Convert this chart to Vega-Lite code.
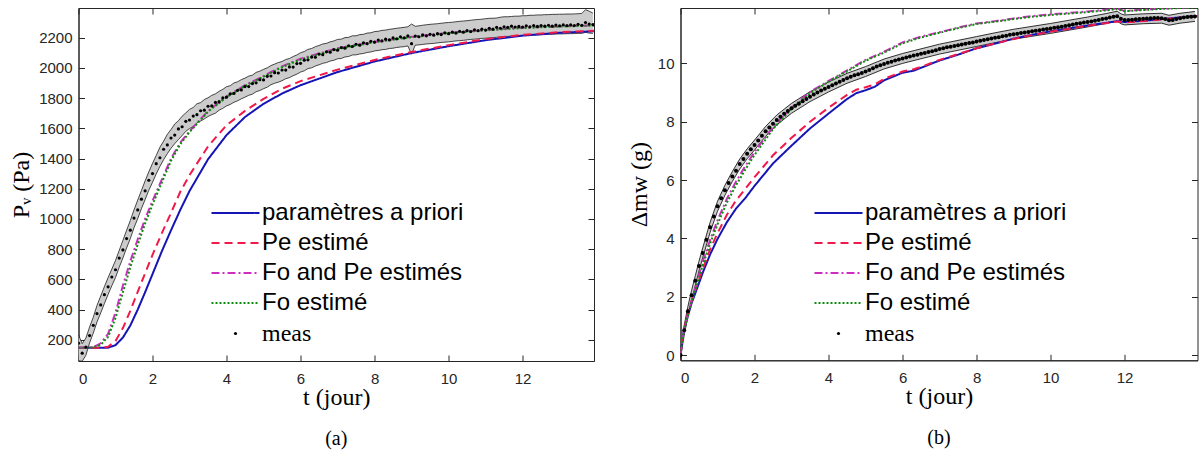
{
  "$schema": "https://vega.github.io/schema/vega-lite/v6.json",
  "background": "white",
  "autosize": {"type": "pad"},
  "padding": {"left": 8.5, "top": 7, "right": 2, "bottom": 0},
  "spacing": 30,
  "config": {
    "font": "Liberation Sans",
    "view": {"stroke": "#262626", "strokeWidth": 1},
    "axis": {"labelFont": "Liberation Sans", "labelFontSize": 15, "labelColor": "#262626", "domainColor": "#262626", "tickColor": "#262626", "tickSize": -6, "grid": false, "titleFont": "Liberation Serif", "titleFontSize": 24, "titleFontWeight": "normal", "titleColor": "black", "labelOverlap": false, "format": "d"},
    "axisX": {"labelPadding": 16, "titlePadding": -1},
    "axisY": {"labelPadding": 12.5, "titlePadding": 5, "labelOverlap": false},
    "legend": {"orient": "none", "padding": 0, "labelFont": "Liberation Sans", "labelFontSize": 24, "labelColor": "black", "rowPadding": 6, "labelLimit": 0}
  },
  "datasets": {
    "pvm": [
      {"t": 0, "ap": 147, "pe": 147, "fope": 147, "fo": 147},
      {"t": 0.2, "ap": 147, "pe": 147, "fope": 147, "fo": 147},
      {"t": 0.4, "ap": 147, "pe": 147, "fope": 152, "fo": 150},
      {"t": 0.6, "ap": 147, "pe": 148, "fope": 177, "fo": 167},
      {"t": 0.8, "ap": 148, "pe": 154, "fope": 240, "fo": 220},
      {"t": 1.0, "ap": 165, "pe": 192, "fope": 380, "fo": 345},
      {"t": 1.2, "ap": 215, "pe": 278, "fope": 560, "fo": 515},
      {"t": 1.4, "ap": 295, "pe": 392, "fope": 720, "fo": 680},
      {"t": 1.6, "ap": 400, "pe": 518, "fope": 865, "fo": 830},
      {"t": 1.8, "ap": 515, "pe": 640, "fope": 1000, "fo": 970},
      {"t": 2.0, "ap": 635, "pe": 762, "fope": 1120, "fo": 1095},
      {"t": 2.25, "ap": 785, "pe": 905, "fope": 1260, "fo": 1240},
      {"t": 2.5, "ap": 925, "pe": 1040, "fope": 1400, "fo": 1385},
      {"t": 2.75, "ap": 1060, "pe": 1180, "fope": 1505, "fo": 1495},
      {"t": 3.0, "ap": 1185, "pe": 1290, "fope": 1580, "fo": 1575},
      {"t": 3.5, "ap": 1395, "pe": 1480, "fope": 1715, "fo": 1710},
      {"t": 4.0, "ap": 1555, "pe": 1620, "fope": 1810, "fo": 1805},
      {"t": 4.5, "ap": 1675, "pe": 1715, "fope": 1885, "fo": 1880},
      {"t": 5.0, "ap": 1762, "pe": 1795, "fope": 1945, "fo": 1942},
      {"t": 5.5, "ap": 1830, "pe": 1862, "fope": 2010, "fo": 2005},
      {"t": 6, "ap": 1885, "pe": 1912, "fope": 2060, "fo": 2055},
      {"t": 7, "ap": 1972, "pe": 1988, "fope": 2130, "fo": 2125},
      {"t": 8, "ap": 2042, "pe": 2052, "fope": 2172, "fo": 2170},
      {"t": 9, "ap": 2098, "pe": 2105, "fope": 2205, "fo": 2203},
      {"t": 10, "ap": 2143, "pe": 2150, "fope": 2232, "fo": 2230},
      {"t": 11, "ap": 2183, "pe": 2190, "fope": 2250, "fo": 2248},
      {"t": 12, "ap": 2213, "pe": 2218, "fope": 2266, "fo": 2263},
      {"t": 13, "ap": 2232, "pe": 2236, "fope": 2275, "fo": 2273},
      {"t": 13.93, "ap": 2242, "pe": 2246, "fope": 2282, "fo": 2280}
    ],
    "pvx": [
      {"t": 0.0, "m": 178, "lo": 62, "hi": 232},
      {"t": 0.1, "m": 112, "lo": 58, "hi": 175},
      {"t": 0.2, "m": 152, "lo": 98, "hi": 212},
      {"t": 0.3, "m": 228, "lo": 180, "hi": 285},
      {"t": 0.4, "m": 296, "lo": 245, "hi": 350},
      {"t": 0.5, "m": 374, "lo": 318, "hi": 428},
      {"t": 0.6, "m": 431, "lo": 378, "hi": 490},
      {"t": 0.7, "m": 499, "lo": 440, "hi": 552},
      {"t": 0.8, "m": 551, "lo": 500, "hi": 612},
      {"t": 0.9, "m": 616, "lo": 558, "hi": 668},
      {"t": 1.0, "m": 664, "lo": 612, "hi": 725},
      {"t": 1.1, "m": 741, "lo": 680, "hi": 792},
      {"t": 1.2, "m": 795, "lo": 742, "hi": 858},
      {"t": 1.3, "m": 870, "lo": 808, "hi": 925},
      {"t": 1.4, "m": 926, "lo": 870, "hi": 990},
      {"t": 1.5, "m": 1006, "lo": 942, "hi": 1060},
      {"t": 1.6, "m": 1060, "lo": 1002, "hi": 1125},
      {"t": 1.7, "m": 1131, "lo": 1068, "hi": 1188},
      {"t": 1.8, "m": 1186, "lo": 1128, "hi": 1252},
      {"t": 1.9, "m": 1256, "lo": 1190, "hi": 1312},
      {"t": 2.0, "m": 1300, "lo": 1242, "hi": 1368},
      {"t": 2.1, "m": 1366, "lo": 1298, "hi": 1420},
      {"t": 2.2, "m": 1405, "lo": 1348, "hi": 1475},
      {"t": 2.3, "m": 1461, "lo": 1392, "hi": 1515},
      {"t": 2.4, "m": 1490, "lo": 1432, "hi": 1560},
      {"t": 2.5, "m": 1536, "lo": 1468, "hi": 1592},
      {"t": 2.6, "m": 1555, "lo": 1498, "hi": 1628},
      {"t": 2.7, "m": 1596, "lo": 1525, "hi": 1650},
      {"t": 2.8, "m": 1610, "lo": 1552, "hi": 1680},
      {"t": 2.9, "m": 1646, "lo": 1580, "hi": 1702},
      {"t": 3.0, "m": 1655, "lo": 1598, "hi": 1725},
      {"t": 3.1, "m": 1681, "lo": 1612, "hi": 1738},
      {"t": 3.2, "m": 1690, "lo": 1635, "hi": 1762},
      {"t": 3.3, "m": 1716, "lo": 1648, "hi": 1770},
      {"t": 3.4, "m": 1720, "lo": 1662, "hi": 1790},
      {"t": 3.5, "m": 1746, "lo": 1678, "hi": 1802},
      {"t": 3.6, "m": 1748, "lo": 1690, "hi": 1818},
      {"t": 3.7, "m": 1771, "lo": 1700, "hi": 1828},
      {"t": 3.8, "m": 1776, "lo": 1720, "hi": 1845},
      {"t": 3.9, "m": 1801, "lo": 1732, "hi": 1858},
      {"t": 4.0, "m": 1806, "lo": 1748, "hi": 1875},
      {"t": 4.1, "m": 1828, "lo": 1758, "hi": 1882},
      {"t": 4.2, "m": 1831, "lo": 1772, "hi": 1900},
      {"t": 4.3, "m": 1851, "lo": 1782, "hi": 1908},
      {"t": 4.4, "m": 1854, "lo": 1795, "hi": 1922},
      {"t": 4.5, "m": 1876, "lo": 1806, "hi": 1932},
      {"t": 4.6, "m": 1876, "lo": 1818, "hi": 1945},
      {"t": 4.7, "m": 1896, "lo": 1826, "hi": 1952},
      {"t": 4.8, "m": 1901, "lo": 1842, "hi": 1970},
      {"t": 4.9, "m": 1921, "lo": 1850, "hi": 1978},
      {"t": 5.0, "m": 1920, "lo": 1862, "hi": 1990},
      {"t": 5.1, "m": 1944, "lo": 1872, "hi": 2000},
      {"t": 5.2, "m": 1946, "lo": 1888, "hi": 2015},
      {"t": 5.3, "m": 1968, "lo": 1898, "hi": 2025},
      {"t": 5.4, "m": 1966, "lo": 1905, "hi": 2035},
      {"t": 5.5, "m": 1986, "lo": 1915, "hi": 2042},
      {"t": 5.6, "m": 1985, "lo": 1928, "hi": 2055},
      {"t": 5.7, "m": 2006, "lo": 1935, "hi": 2062},
      {"t": 5.8, "m": 2005, "lo": 1948, "hi": 2075},
      {"t": 5.9, "m": 2028, "lo": 1958, "hi": 2085},
      {"t": 6.0, "m": 2030, "lo": 1972, "hi": 2100},
      {"t": 6.1, "m": 2051, "lo": 1980, "hi": 2108},
      {"t": 6.2, "m": 2053, "lo": 1995, "hi": 2122},
      {"t": 6.3, "m": 2071, "lo": 2000, "hi": 2128},
      {"t": 6.4, "m": 2070, "lo": 2012, "hi": 2140},
      {"t": 6.5, "m": 2091, "lo": 2020, "hi": 2148},
      {"t": 6.6, "m": 2087, "lo": 2030, "hi": 2158},
      {"t": 6.7, "m": 2106, "lo": 2035, "hi": 2162},
      {"t": 6.8, "m": 2103, "lo": 2045, "hi": 2172},
      {"t": 6.9, "m": 2121, "lo": 2050, "hi": 2178},
      {"t": 7.0, "m": 2117, "lo": 2060, "hi": 2188},
      {"t": 7.1, "m": 2134, "lo": 2062, "hi": 2190},
      {"t": 7.2, "m": 2130, "lo": 2072, "hi": 2200},
      {"t": 7.3, "m": 2146, "lo": 2075, "hi": 2202},
      {"t": 7.4, "m": 2141, "lo": 2085, "hi": 2212},
      {"t": 7.5, "m": 2156, "lo": 2086, "hi": 2212},
      {"t": 7.6, "m": 2150, "lo": 2092, "hi": 2220},
      {"t": 7.7, "m": 2166, "lo": 2095, "hi": 2222},
      {"t": 7.8, "m": 2160, "lo": 2102, "hi": 2230},
      {"t": 7.9, "m": 2176, "lo": 2105, "hi": 2232},
      {"t": 8.0, "m": 2170, "lo": 2112, "hi": 2240},
      {"t": 8.1, "m": 2184, "lo": 2115, "hi": 2242},
      {"t": 8.2, "m": 2178, "lo": 2120, "hi": 2248},
      {"t": 8.3, "m": 2190, "lo": 2122, "hi": 2250},
      {"t": 8.4, "m": 2185, "lo": 2128, "hi": 2255},
      {"t": 8.5, "m": 2198, "lo": 2130, "hi": 2258},
      {"t": 8.6, "m": 2192, "lo": 2135, "hi": 2262},
      {"t": 8.7, "m": 2205, "lo": 2138, "hi": 2265},
      {"t": 8.8, "m": 2198, "lo": 2140, "hi": 2268},
      {"t": 8.9, "m": 2212, "lo": 2145, "hi": 2272},
      {"t": 9.0, "m": 2160, "lo": 2090, "hi": 2290},
      {"t": 9.1, "m": 2210, "lo": 2150, "hi": 2275},
      {"t": 9.2, "m": 2206, "lo": 2152, "hi": 2278},
      {"t": 9.3, "m": 2218, "lo": 2155, "hi": 2282},
      {"t": 9.4, "m": 2212, "lo": 2158, "hi": 2285},
      {"t": 9.5, "m": 2222, "lo": 2160, "hi": 2288},
      {"t": 9.6, "m": 2216, "lo": 2162, "hi": 2290},
      {"t": 9.7, "m": 2226, "lo": 2165, "hi": 2292},
      {"t": 9.8, "m": 2220, "lo": 2168, "hi": 2295},
      {"t": 9.9, "m": 2232, "lo": 2170, "hi": 2298},
      {"t": 10.0, "m": 2226, "lo": 2172, "hi": 2300},
      {"t": 10.1, "m": 2236, "lo": 2175, "hi": 2302},
      {"t": 10.2, "m": 2230, "lo": 2178, "hi": 2305},
      {"t": 10.3, "m": 2242, "lo": 2180, "hi": 2308},
      {"t": 10.4, "m": 2236, "lo": 2182, "hi": 2310},
      {"t": 10.5, "m": 2246, "lo": 2185, "hi": 2312},
      {"t": 10.6, "m": 2240, "lo": 2188, "hi": 2315},
      {"t": 10.7, "m": 2252, "lo": 2190, "hi": 2318},
      {"t": 10.8, "m": 2246, "lo": 2192, "hi": 2320},
      {"t": 10.9, "m": 2256, "lo": 2195, "hi": 2322},
      {"t": 11.0, "m": 2250, "lo": 2196, "hi": 2325},
      {"t": 11.1, "m": 2262, "lo": 2198, "hi": 2328},
      {"t": 11.2, "m": 2256, "lo": 2200, "hi": 2328},
      {"t": 11.3, "m": 2268, "lo": 2202, "hi": 2330},
      {"t": 11.4, "m": 2262, "lo": 2205, "hi": 2335},
      {"t": 11.5, "m": 2272, "lo": 2208, "hi": 2338},
      {"t": 11.6, "m": 2268, "lo": 2208, "hi": 2338},
      {"t": 11.7, "m": 2276, "lo": 2210, "hi": 2340},
      {"t": 11.8, "m": 2270, "lo": 2212, "hi": 2342},
      {"t": 11.9, "m": 2274, "lo": 2212, "hi": 2342},
      {"t": 12.0, "m": 2270, "lo": 2214, "hi": 2345},
      {"t": 12.1, "m": 2278, "lo": 2215, "hi": 2345},
      {"t": 12.2, "m": 2272, "lo": 2216, "hi": 2348},
      {"t": 12.3, "m": 2280, "lo": 2218, "hi": 2348},
      {"t": 12.4, "m": 2274, "lo": 2218, "hi": 2350},
      {"t": 12.5, "m": 2280, "lo": 2220, "hi": 2350},
      {"t": 12.6, "m": 2276, "lo": 2220, "hi": 2352},
      {"t": 12.7, "m": 2282, "lo": 2222, "hi": 2352},
      {"t": 12.8, "m": 2276, "lo": 2222, "hi": 2354},
      {"t": 12.9, "m": 2283, "lo": 2224, "hi": 2354},
      {"t": 13.0, "m": 2278, "lo": 2224, "hi": 2355},
      {"t": 13.1, "m": 2284, "lo": 2225, "hi": 2355},
      {"t": 13.2, "m": 2279, "lo": 2226, "hi": 2356},
      {"t": 13.3, "m": 2285, "lo": 2226, "hi": 2356},
      {"t": 13.4, "m": 2280, "lo": 2227, "hi": 2357},
      {"t": 13.5, "m": 2288, "lo": 2228, "hi": 2358},
      {"t": 13.6, "m": 2282, "lo": 2228, "hi": 2360},
      {"t": 13.7, "m": 2300, "lo": 2235, "hi": 2385},
      {"t": 13.8, "m": 2290, "lo": 2230, "hi": 2375},
      {"t": 13.9, "m": 2286, "lo": 2228, "hi": 2362}
    ],
    "dmm": [
      {"t": 0, "ap": 0, "pe": 0, "fope": 0, "fo": 0},
      {"t": 0.05, "ap": 0.55, "pe": 0.57, "fope": 0.55, "fo": 0.55},
      {"t": 0.1, "ap": 0.85, "pe": 0.9, "fope": 0.88, "fo": 0.86},
      {"t": 0.2, "ap": 1.35, "pe": 1.42, "fope": 1.4, "fo": 1.36},
      {"t": 0.3, "ap": 1.78, "pe": 1.85, "fope": 1.88, "fo": 1.82},
      {"t": 0.4, "ap": 2.12, "pe": 2.22, "fope": 2.3, "fo": 2.22},
      {"t": 0.6, "ap": 2.82, "pe": 2.95, "fope": 3.2, "fo": 3.08},
      {"t": 0.8, "ap": 3.45, "pe": 3.62, "fope": 3.95, "fo": 3.82},
      {"t": 1.0, "ap": 3.98, "pe": 4.18, "fope": 4.62, "fo": 4.48},
      {"t": 1.25, "ap": 4.55, "pe": 4.8, "fope": 5.35, "fo": 5.22},
      {"t": 1.5, "ap": 5.02, "pe": 5.3, "fope": 5.95, "fo": 5.82},
      {"t": 1.75, "ap": 5.38, "pe": 5.7, "fope": 6.48, "fo": 6.36},
      {"t": 2.0, "ap": 5.8, "pe": 6.1, "fope": 6.96, "fo": 6.86},
      {"t": 2.5, "ap": 6.57, "pe": 6.85, "fope": 7.82, "fo": 7.75},
      {"t": 3.0, "ap": 7.18, "pe": 7.45, "fope": 8.48, "fo": 8.44},
      {"t": 3.5, "ap": 7.77, "pe": 8.0, "fope": 9.02, "fo": 8.98},
      {"t": 4.0, "ap": 8.28, "pe": 8.48, "fope": 9.4, "fo": 9.37},
      {"t": 4.5, "ap": 8.78, "pe": 8.92, "fope": 9.76, "fo": 9.73},
      {"t": 4.75, "ap": 8.98, "pe": 9.1, "fope": 9.94, "fo": 9.91},
      {"t": 5.0, "ap": 9.08, "pe": 9.18, "fope": 10.12, "fo": 10.09},
      {"t": 5.25, "ap": 9.2, "pe": 9.28, "fope": 10.26, "fo": 10.23},
      {"t": 5.5, "ap": 9.42, "pe": 9.47, "fope": 10.4, "fo": 10.37},
      {"t": 6.0, "ap": 9.68, "pe": 9.72, "fope": 10.72, "fo": 10.69},
      {"t": 6.3, "ap": 9.75, "pe": 9.8, "fope": 10.84, "fo": 10.81},
      {"t": 6.5, "ap": 9.85, "pe": 9.88, "fope": 10.92, "fo": 10.89},
      {"t": 7.0, "ap": 10.1, "pe": 10.12, "fope": 11.07, "fo": 11.05},
      {"t": 7.5, "ap": 10.3, "pe": 10.32, "fope": 11.23, "fo": 11.21},
      {"t": 8.0, "ap": 10.52, "pe": 10.52, "fope": 11.37, "fo": 11.35},
      {"t": 8.5, "ap": 10.68, "pe": 10.68, "fope": 11.45, "fo": 11.43},
      {"t": 9.0, "ap": 10.85, "pe": 10.84, "fope": 11.54, "fo": 11.52},
      {"t": 9.5, "ap": 10.98, "pe": 10.97, "fope": 11.62, "fo": 11.6},
      {"t": 10.0, "ap": 11.1, "pe": 11.09, "fope": 11.68, "fo": 11.66},
      {"t": 10.5, "ap": 11.2, "pe": 11.19, "fope": 11.73, "fo": 11.71},
      {"t": 11.0, "ap": 11.3, "pe": 11.29, "fope": 11.78, "fo": 11.76},
      {"t": 11.5, "ap": 11.39, "pe": 11.38, "fope": 11.84, "fo": 11.82},
      {"t": 11.8, "ap": 11.45, "pe": 11.44, "fope": 11.88, "fo": 11.86},
      {"t": 12.0, "ap": 11.42, "pe": 11.41, "fope": 11.8, "fo": 11.79},
      {"t": 12.5, "ap": 11.46, "pe": 11.45, "fope": 11.84, "fo": 11.83},
      {"t": 13.0, "ap": 11.52, "pe": 11.51, "fope": 11.88, "fo": 11.87},
      {"t": 13.5, "ap": 11.58, "pe": 11.57, "fope": 11.91, "fo": 11.9},
      {"t": 13.97, "ap": 11.63, "pe": 11.62, "fope": 11.93, "fo": 11.92}
    ],
    "dmx": [
      {"t": 0.0, "m": 0.0}, {"t": 0.1, "m": 0.85}, {"t": 0.2, "m": 1.5}, {"t": 0.3, "m": 2.05}, {"t": 0.4, "m": 2.55},
      {"t": 0.5, "m": 3.05}, {"t": 0.6, "m": 3.5}, {"t": 0.7, "m": 3.95}, {"t": 0.8, "m": 4.38}, {"t": 0.9, "m": 4.75},
      {"t": 1.0, "m": 5.1}, {"t": 1.1, "m": 5.38}, {"t": 1.2, "m": 5.65}, {"t": 1.3, "m": 5.9}, {"t": 1.4, "m": 6.12},
      {"t": 1.5, "m": 6.32}, {"t": 1.6, "m": 6.55}, {"t": 1.7, "m": 6.72}, {"t": 1.8, "m": 6.9}, {"t": 1.9, "m": 7.06},
      {"t": 2.0, "m": 7.2}, {"t": 2.1, "m": 7.36}, {"t": 2.2, "m": 7.52}, {"t": 2.3, "m": 7.67}, {"t": 2.4, "m": 7.8},
      {"t": 2.5, "m": 7.93}, {"t": 2.6, "m": 8.06}, {"t": 2.7, "m": 8.17}, {"t": 2.8, "m": 8.27}, {"t": 2.9, "m": 8.37},
      {"t": 3.0, "m": 8.46}, {"t": 3.1, "m": 8.55}, {"t": 3.2, "m": 8.62}, {"t": 3.3, "m": 8.7}, {"t": 3.4, "m": 8.78},
      {"t": 3.5, "m": 8.86}, {"t": 3.6, "m": 8.93}, {"t": 3.7, "m": 9.0}, {"t": 3.8, "m": 9.07}, {"t": 3.9, "m": 9.13},
      {"t": 4.0, "m": 9.19}, {"t": 4.1, "m": 9.25}, {"t": 4.2, "m": 9.31}, {"t": 4.3, "m": 9.37}, {"t": 4.4, "m": 9.43},
      {"t": 4.5, "m": 9.49}, {"t": 4.6, "m": 9.54}, {"t": 4.7, "m": 9.59}, {"t": 4.8, "m": 9.63}, {"t": 4.9, "m": 9.67},
      {"t": 5.0, "m": 9.72}, {"t": 5.1, "m": 9.77}, {"t": 5.2, "m": 9.83}, {"t": 5.3, "m": 9.89}, {"t": 5.4, "m": 9.94},
      {"t": 5.5, "m": 9.98}, {"t": 5.6, "m": 10.02}, {"t": 5.7, "m": 10.06}, {"t": 5.8, "m": 10.1}, {"t": 5.9, "m": 10.13},
      {"t": 6.0, "m": 10.17}, {"t": 6.1, "m": 10.2}, {"t": 6.2, "m": 10.24}, {"t": 6.3, "m": 10.27}, {"t": 6.4, "m": 10.3},
      {"t": 6.5, "m": 10.33}, {"t": 6.6, "m": 10.36}, {"t": 6.7, "m": 10.39}, {"t": 6.8, "m": 10.42}, {"t": 6.9, "m": 10.45},
      {"t": 7.0, "m": 10.49}, {"t": 7.1, "m": 10.52}, {"t": 7.2, "m": 10.55}, {"t": 7.3, "m": 10.57}, {"t": 7.4, "m": 10.6},
      {"t": 7.5, "m": 10.62}, {"t": 7.6, "m": 10.65}, {"t": 7.7, "m": 10.67}, {"t": 7.8, "m": 10.7}, {"t": 7.9, "m": 10.72},
      {"t": 8.0, "m": 10.75}, {"t": 8.1, "m": 10.78}, {"t": 8.2, "m": 10.8}, {"t": 8.3, "m": 10.83}, {"t": 8.4, "m": 10.85},
      {"t": 8.5, "m": 10.88}, {"t": 8.6, "m": 10.9}, {"t": 8.7, "m": 10.93}, {"t": 8.8, "m": 10.95}, {"t": 8.9, "m": 10.98},
      {"t": 9.0, "m": 11.0}, {"t": 9.1, "m": 11.02}, {"t": 9.2, "m": 11.04}, {"t": 9.3, "m": 11.06}, {"t": 9.4, "m": 11.08},
      {"t": 9.5, "m": 11.1}, {"t": 9.6, "m": 11.12}, {"t": 9.7, "m": 11.14}, {"t": 9.8, "m": 11.16}, {"t": 9.9, "m": 11.18},
      {"t": 10.0, "m": 11.2}, {"t": 10.1, "m": 11.22}, {"t": 10.2, "m": 11.24}, {"t": 10.3, "m": 11.26}, {"t": 10.4, "m": 11.28},
      {"t": 10.5, "m": 11.31}, {"t": 10.6, "m": 11.33}, {"t": 10.7, "m": 11.36}, {"t": 10.8, "m": 11.38}, {"t": 10.9, "m": 11.4},
      {"t": 11.0, "m": 11.42}, {"t": 11.1, "m": 11.44}, {"t": 11.2, "m": 11.46}, {"t": 11.3, "m": 11.49}, {"t": 11.4, "m": 11.52},
      {"t": 11.5, "m": 11.54}, {"t": 11.6, "m": 11.57}, {"t": 11.7, "m": 11.6}, {"t": 11.8, "m": 11.62}, {"t": 11.9, "m": 11.53},
      {"t": 12.0, "m": 11.49}, {"t": 12.1, "m": 11.49}, {"t": 12.2, "m": 11.5}, {"t": 12.3, "m": 11.51}, {"t": 12.4, "m": 11.52},
      {"t": 12.5, "m": 11.53}, {"t": 12.6, "m": 11.54}, {"t": 12.7, "m": 11.55}, {"t": 12.8, "m": 11.56}, {"t": 12.9, "m": 11.56},
      {"t": 13.0, "m": 11.55}, {"t": 13.1, "m": 11.52}, {"t": 13.2, "m": 11.48}, {"t": 13.3, "m": 11.49}, {"t": 13.4, "m": 11.52},
      {"t": 13.5, "m": 11.55}, {"t": 13.6, "m": 11.57}, {"t": 13.7, "m": 11.59}, {"t": 13.8, "m": 11.6}, {"t": 13.9, "m": 11.61}
    ],
    "dmb": [
      {"t": 0, "lo": -0.1, "hi": 0.1},
      {"t": 0.1, "lo": 0.68, "hi": 1.02},
      {"t": 0.2, "lo": 1.33, "hi": 1.67},
      {"t": 0.3, "lo": 1.88, "hi": 2.22},
      {"t": 0.4, "lo": 2.38, "hi": 2.72},
      {"t": 0.5, "lo": 2.88, "hi": 3.22},
      {"t": 0.6, "lo": 3.33, "hi": 3.67},
      {"t": 0.8, "lo": 4.21, "hi": 4.55},
      {"t": 1.0, "lo": 4.93, "hi": 5.27},
      {"t": 1.2, "lo": 5.48, "hi": 5.82},
      {"t": 1.4, "lo": 5.95, "hi": 6.29},
      {"t": 1.6, "lo": 6.38, "hi": 6.72},
      {"t": 1.8, "lo": 6.73, "hi": 7.07},
      {"t": 2.0, "lo": 7.03, "hi": 7.37},
      {"t": 2.3, "lo": 7.5, "hi": 7.84},
      {"t": 2.6, "lo": 7.89, "hi": 8.23},
      {"t": 3.0, "lo": 8.29, "hi": 8.63},
      {"t": 3.5, "lo": 8.69, "hi": 9.03},
      {"t": 4.0, "lo": 9.02, "hi": 9.36},
      {"t": 4.5, "lo": 9.32, "hi": 9.66},
      {"t": 5.0, "lo": 9.55, "hi": 9.89},
      {"t": 5.5, "lo": 9.81, "hi": 10.15},
      {"t": 6.0, "lo": 10.0, "hi": 10.34},
      {"t": 6.5, "lo": 10.16, "hi": 10.5},
      {"t": 7.0, "lo": 10.32, "hi": 10.66},
      {"t": 7.5, "lo": 10.45, "hi": 10.79},
      {"t": 8.0, "lo": 10.58, "hi": 10.92},
      {"t": 8.5, "lo": 10.71, "hi": 11.05},
      {"t": 9.0, "lo": 10.83, "hi": 11.17},
      {"t": 9.5, "lo": 10.93, "hi": 11.27},
      {"t": 10.0, "lo": 11.03, "hi": 11.37},
      {"t": 10.5, "lo": 11.14, "hi": 11.48},
      {"t": 11.0, "lo": 11.25, "hi": 11.59},
      {"t": 11.5, "lo": 11.37, "hi": 11.71},
      {"t": 11.8, "lo": 11.45, "hi": 11.79},
      {"t": 11.9, "lo": 11.36, "hi": 11.7},
      {"t": 12.0, "lo": 11.32, "hi": 11.66},
      {"t": 12.5, "lo": 11.36, "hi": 11.7},
      {"t": 13.0, "lo": 11.38, "hi": 11.72},
      {"t": 13.2, "lo": 11.31, "hi": 11.65},
      {"t": 13.5, "lo": 11.38, "hi": 11.72},
      {"t": 13.9, "lo": 11.44, "hi": 11.78}
    ]
  },
  "resolve": {
    "scale": {"x": "independent", "y": "independent", "color": "independent", "strokeDash": "independent", "shape": "independent"},
    "legend": {"color": "independent", "strokeDash": "independent", "shape": "independent"}
  },
  "hconcat": [
    {
      "width": 515.5,
      "height": 353,
      "title": {"text": "(a)", "orient": "bottom", "font": "Liberation Serif", "fontSize": 20, "fontWeight": "normal", "color": "black", "frame": "group", "anchor": "middle", "offset": 20},
      "resolve": {"axis": {"x": "independent", "y": "independent"}},
      "layer": [
        {
          "layer": [
            {
              "data": {"name": "pvx"},
              "mark": {"type": "area", "color": "#cccccc", "clip": true},
              "encoding": {
                "x": {"field": "t", "type": "quantitative", "scale": {"domain": [0, 13.93], "nice": false, "zero": false}, "axis": {"title": "t (jour)", "values": [0, 2, 4, 6, 8, 10, 12], "tickCount": 20, "labelOverlap": false, "format": "d"}},
                "y": {"field": "lo", "type": "quantitative", "scale": {"domain": [60, 2396], "nice": false, "zero": false}, "axis": {"title": "Pᵥ (Pa)", "values": [200, 400, 600, 800, 1000, 1200, 1400, 1600, 1800, 2000, 2200], "tickCount": 20, "labelOverlap": false, "format": "d"}},
                "y2": {"field": "hi"}
              }
            },
            {
              "data": {"name": "pvx"},
              "mark": {"type": "line", "color": "black", "strokeWidth": 0.7, "clip": true},
              "encoding": {
                "x": {"field": "t", "type": "quantitative", "scale": {"domain": [0, 13.93], "nice": false, "zero": false}},
                "y": {"field": "lo", "type": "quantitative", "scale": {"domain": [60, 2396], "nice": false, "zero": false}}
              }
            },
            {
              "data": {"name": "pvx"},
              "mark": {"type": "line", "color": "black", "strokeWidth": 0.7, "clip": true},
              "encoding": {
                "x": {"field": "t", "type": "quantitative", "scale": {"domain": [0, 13.93], "nice": false, "zero": false}},
                "y": {"field": "hi", "type": "quantitative", "scale": {"domain": [60, 2396], "nice": false, "zero": false}}
              }
            },
            {
              "data": {"name": "pvm"},
              "transform": [{"fold": ["ap", "pe", "fope", "fo"], "as": ["series", "v"]}],
              "mark": {"type": "line", "strokeWidth": 2, "clip": true},
              "encoding": {
                "x": {"field": "t", "type": "quantitative", "scale": {"domain": [0, 13.93], "nice": false, "zero": false}},
                "y": {"field": "v", "type": "quantitative", "scale": {"domain": [60, 2396], "nice": false, "zero": false}},
                "color": {"field": "series", "type": "nominal", "scale": {"domain": ["ap", "pe", "fope", "fo"], "range": ["#1515b5", "#f0194a", "#cc2fc0", "#0a8f0a"]},
                  "legend": {"title": null, "legendX": 145, "legendY": 193, "symbolType": "M-2.4,0H2.4", "symbolSize": 400, "symbolStrokeWidth": 2, "labelOffset": 14.5, "labelExpr": "datum.value === 'ap' ? 'paramètres a priori' : datum.value === 'pe' ? 'Pe estimé' : datum.value === 'fope' ? 'Fo and Pe estimés' : 'Fo estimé'"}},
                "strokeDash": {"field": "series", "type": "nominal", "scale": {"domain": ["ap", "pe", "fope", "fo"], "range": [[1, 0], [8, 5], [8, 3, 2, 3], [2, 2]]},
                  "legend": {"title": null, "legendX": 145, "legendY": 193, "symbolType": "M-2.4,0H2.4", "symbolSize": 400, "symbolStrokeWidth": 2, "labelOffset": 14.5, "labelExpr": "datum.value === 'ap' ? 'paramètres a priori' : datum.value === 'pe' ? 'Pe estimé' : datum.value === 'fope' ? 'Fo and Pe estimés' : 'Fo estimé'"}}
              }
            },
            {
              "data": {"name": "pvx"},
              "mark": {"type": "point", "filled": true, "color": "black", "size": 10, "opacity": 1, "clip": true},
              "encoding": {
                "x": {"field": "t", "type": "quantitative", "scale": {"domain": [0, 13.93], "nice": false, "zero": false}},
                "y": {"field": "m", "type": "quantitative", "scale": {"domain": [60, 2396], "nice": false, "zero": false}},
                "shape": {"datum": "meas", "scale": {"domain": ["meas"], "range": ["circle"]},
                  "legend": {"title": null, "legendX": 145, "legendY": 313.5, "symbolSize": 10, "symbolFillColor": "black", "symbolStrokeWidth": 0, "labelFont": "Liberation Serif", "labelOffset": 14.5}}
              }
            }
          ]
        },
        {
          "data": {"name": "pvx"},
          "mark": {"type": "point", "opacity": 0},
          "encoding": {
            "x": {"field": "t", "type": "quantitative", "scale": {"domain": [0, 13.93], "nice": false, "zero": false}, "axis": {"orient": "top", "labels": false, "domain": false, "title": null, "tickCount": 20, "values": [0, 2, 4, 6, 8, 10, 12]}},
            "y": {"field": "m", "type": "quantitative", "scale": {"domain": [60, 2396], "nice": false, "zero": false}, "axis": {"orient": "right", "labels": false, "domain": false, "title": null, "tickCount": 20, "values": [200, 400, 600, 800, 1000, 1200, 1400, 1600, 1800, 2000, 2200]}}
          }
        }
      ]
    },
    {
      "width": 517,
      "height": 352.3,
      "title": {"text": "(b)", "orient": "bottom", "font": "Liberation Serif", "fontSize": 20, "fontWeight": "normal", "color": "black", "frame": "group", "anchor": "middle", "offset": 20},
      "resolve": {"axis": {"x": "independent", "y": "independent"}},
      "layer": [
        {
          "layer": [
            {
              "data": {"name": "dmb"},
              "mark": {"type": "area", "color": "#cccccc", "clip": true},
              "encoding": {
                "x": {"field": "t", "type": "quantitative", "scale": {"domain": [0, 13.97], "nice": false, "zero": false}, "axis": {"title": "t (jour)", "values": [0, 2, 4, 6, 8, 10, 12], "tickCount": 20, "labelOverlap": false, "format": "d"}},
                "y": {"field": "lo", "type": "quantitative", "scale": {"domain": [-0.18, 11.9], "nice": false, "zero": false}, "axis": {"title": "Δmw (g)", "values": [0, 2, 4, 6, 8, 10], "tickCount": 20, "titlePadding": 6, "labelOverlap": false, "format": "d"}},
                "y2": {"field": "hi"}
              }
            },
            {
              "data": {"name": "dmb"},
              "mark": {"type": "line", "color": "black", "strokeWidth": 0.8, "clip": true},
              "encoding": {
                "x": {"field": "t", "type": "quantitative", "scale": {"domain": [0, 13.97], "nice": false, "zero": false}},
                "y": {"field": "lo", "type": "quantitative", "scale": {"domain": [-0.18, 11.9], "nice": false, "zero": false}}
              }
            },
            {
              "data": {"name": "dmb"},
              "mark": {"type": "line", "color": "black", "strokeWidth": 0.8, "clip": true},
              "encoding": {
                "x": {"field": "t", "type": "quantitative", "scale": {"domain": [0, 13.97], "nice": false, "zero": false}},
                "y": {"field": "hi", "type": "quantitative", "scale": {"domain": [-0.18, 11.9], "nice": false, "zero": false}}
              }
            },
            {
              "data": {"name": "dmm"},
              "transform": [{"fold": ["ap", "pe", "fope", "fo"], "as": ["series", "v"]}],
              "mark": {"type": "line", "strokeWidth": 2, "clip": true},
              "encoding": {
                "x": {"field": "t", "type": "quantitative", "scale": {"domain": [0, 13.97], "nice": false, "zero": false}},
                "y": {"field": "v", "type": "quantitative", "scale": {"domain": [-0.18, 11.9], "nice": false, "zero": false}},
                "color": {"field": "series", "type": "nominal", "scale": {"domain": ["ap", "pe", "fope", "fo"], "range": ["#1515b5", "#f0194a", "#cc2fc0", "#0a8f0a"]},
                  "legend": {"title": null, "legendX": 146, "legendY": 193, "symbolType": "M-2.4,0H2.4", "symbolSize": 400, "symbolStrokeWidth": 2, "labelOffset": 14.5, "labelExpr": "datum.value === 'ap' ? 'paramètres a priori' : datum.value === 'pe' ? 'Pe estimé' : datum.value === 'fope' ? 'Fo and Pe estimés' : 'Fo estimé'"}},
                "strokeDash": {"field": "series", "type": "nominal", "scale": {"domain": ["ap", "pe", "fope", "fo"], "range": [[1, 0], [8, 5], [8, 3, 2, 3], [2, 2]]},
                  "legend": {"title": null, "legendX": 146, "legendY": 193, "symbolType": "M-2.4,0H2.4", "symbolSize": 400, "symbolStrokeWidth": 2, "labelOffset": 14.5, "labelExpr": "datum.value === 'ap' ? 'paramètres a priori' : datum.value === 'pe' ? 'Pe estimé' : datum.value === 'fope' ? 'Fo and Pe estimés' : 'Fo estimé'"}}
              }
            },
            {
              "data": {"name": "dmx"},
              "mark": {"type": "point", "filled": true, "color": "black", "size": 16, "opacity": 1, "clip": true},
              "encoding": {
                "x": {"field": "t", "type": "quantitative", "scale": {"domain": [0, 13.97], "nice": false, "zero": false}},
                "y": {"field": "m", "type": "quantitative", "scale": {"domain": [-0.18, 11.9], "nice": false, "zero": false}},
                "shape": {"datum": "meas", "scale": {"domain": ["meas"], "range": ["circle"]},
                  "legend": {"title": null, "legendX": 146, "legendY": 313.5, "symbolSize": 10, "symbolFillColor": "black", "symbolStrokeWidth": 0, "labelFont": "Liberation Serif", "labelOffset": 14.5}}
              }
            }
          ]
        },
        {
          "data": {"name": "dmx"},
          "mark": {"type": "point", "opacity": 0},
          "encoding": {
            "x": {"field": "t", "type": "quantitative", "scale": {"domain": [0, 13.97], "nice": false, "zero": false}, "axis": {"orient": "top", "labels": false, "domain": false, "title": null, "tickCount": 20, "values": [0, 2, 4, 6, 8, 10, 12]}},
            "y": {"field": "m", "type": "quantitative", "scale": {"domain": [-0.18, 11.9], "nice": false, "zero": false}, "axis": {"orient": "right", "labels": false, "domain": false, "title": null, "tickCount": 20, "values": [0, 2, 4, 6, 8, 10]}}
          }
        }
      ]
    }
  ]
}
